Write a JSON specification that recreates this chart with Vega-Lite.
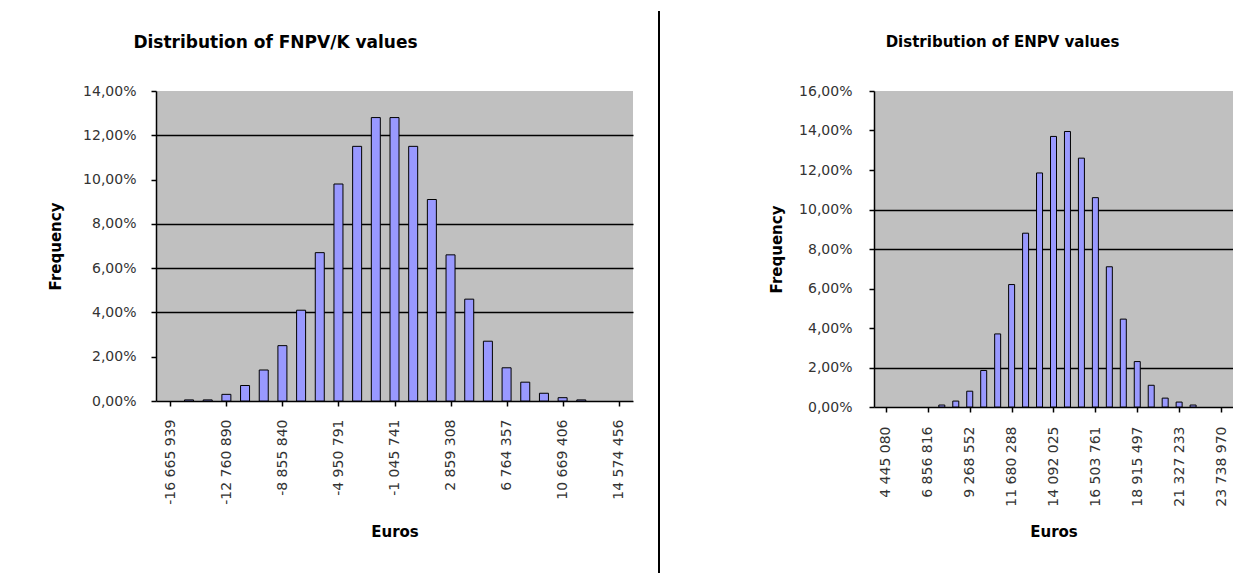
{
  "$schema": "https://vega.github.io/schema/vega-lite/v6.json",
  "padding": {"left": 48, "top": 10, "right": 0, "bottom": 0},
  "background": "white",
  "spacing": 25,
  "config": {
    "locale": {"number": {"decimal": ",", "thousands": " ", "grouping": [3], "currency": ["", " €"], "minus": "-"}},
    "font": "DejaVu Sans",
    "view": {"stroke": null},
    "axis": {
      "domainColor": "black",
      "domainWidth": 1.5,
      "tickColor": "black",
      "tickWidth": 1.5,
      "tickSize": 5,
      "labelFont": "DejaVu Sans",
      "labelFontSize": 14,
      "labelColor": "#333333",
      "titleFont": "DejaVu Sans",
      "titleFontSize": 15,
      "titleFontWeight": "bold",
      "titleColor": "black",
      "gridColor": "black",
      "gridWidth": 1.5
    }
  },
  "datasets": {
    "fnpvk": [
      {"euros": -15364256, "frequency": 0.0005},
      {"euros": -14062573, "frequency": 0.0005},
      {"euros": -12760890, "frequency": 0.003},
      {"euros": -11459207, "frequency": 0.007},
      {"euros": -10157523, "frequency": 0.014},
      {"euros": -8855840, "frequency": 0.025},
      {"euros": -7554157, "frequency": 0.041},
      {"euros": -6252474, "frequency": 0.067},
      {"euros": -4950791, "frequency": 0.098},
      {"euros": -3649108, "frequency": 0.115},
      {"euros": -2347424, "frequency": 0.128},
      {"euros": -1045741, "frequency": 0.128},
      {"euros": 255942, "frequency": 0.115},
      {"euros": 1557625, "frequency": 0.091},
      {"euros": 2859308, "frequency": 0.066},
      {"euros": 4160991, "frequency": 0.046},
      {"euros": 5462674, "frequency": 0.027},
      {"euros": 6764357, "frequency": 0.015},
      {"euros": 8066040, "frequency": 0.0085},
      {"euros": 9367724, "frequency": 0.0035},
      {"euros": 10669406, "frequency": 0.0015},
      {"euros": 11971089, "frequency": 0.0005}
    ],
    "enpv": [
      {"euros": 7660728, "frequency": 0.001},
      {"euros": 8464640, "frequency": 0.003},
      {"euros": 9268552, "frequency": 0.008},
      {"euros": 10072464, "frequency": 0.0185},
      {"euros": 10876376, "frequency": 0.037},
      {"euros": 11680288, "frequency": 0.062},
      {"euros": 12484200, "frequency": 0.088},
      {"euros": 13288113, "frequency": 0.1185},
      {"euros": 14092025, "frequency": 0.137},
      {"euros": 14895937, "frequency": 0.1395},
      {"euros": 15699849, "frequency": 0.126},
      {"euros": 16503761, "frequency": 0.106},
      {"euros": 17307673, "frequency": 0.071},
      {"euros": 18111585, "frequency": 0.0445},
      {"euros": 18915497, "frequency": 0.023},
      {"euros": 19719409, "frequency": 0.011},
      {"euros": 20523321, "frequency": 0.0045},
      {"euros": 21327233, "frequency": 0.0025},
      {"euros": 22131145, "frequency": 0.001}
    ],
    "separator": [{"line": 1}]
  },
  "hconcat": [
    {
      "width": 477,
      "height": 310,
      "title": {"text": "Distribution of FNPV/K values", "font": "DejaVu Sans", "fontSize": 17, "fontWeight": "bold", "color": "black", "anchor": "middle", "dx": -119, "offset": 32},
      "data": {"name": "fnpvk"},
      "view": {"fill": "#c0c0c0", "stroke": null},
      "mark": {"type": "bar", "size": 9, "fill": "#9999ff", "stroke": "black", "strokeWidth": 1},
      "encoding": {
        "x": {
          "field": "euros", "type": "quantitative",
          "scale": {"domain": [-17316781, 15225298], "nice": false, "zero": false},
          "axis": {
            "values": [-16665939, -12760890, -8855840, -4950791, -1045741, 2859308, 6764357, 10669406, 14574456],
            "format": ",d", "labelAngle": -90, "labelPadding": 13, "title": "Euros", "titlePadding": 20, "grid": false
          }
        },
        "y": {
          "field": "frequency", "type": "quantitative",
          "scale": {"domain": [0, 0.14], "nice": false},
          "axis": {
            "values": [0, 0.02, 0.04, 0.06, 0.08, 0.1, 0.12, 0.14],
            "format": ".2%", "title": "Frequency", "labelPadding": 15, "titlePadding": 19,
            "grid": true,
            "gridOpacity": {"condition": {"test": "indexof([4,6,8,12], round(datum.value*100)) >= 0", "value": 1}, "value": 0}
          }
        }
      }
    },
    {
      "width": 85,
      "height": 483,
      "data": {"name": "separator"},
      "mark": {"type": "rule", "stroke": "black", "strokeWidth": 2},
      "encoding": {
        "x": {"datum": 0, "type": "quantitative", "scale": {"domain": [0, 1]}, "axis": null},
        "y": {"datum": 0, "type": "quantitative", "scale": {"domain": [0, 0.858], "nice": false}, "axis": null},
        "y2": {"datum": 1}
      }
    },
    {
      "width": 359,
      "height": 316,
      "title": {"text": "Distribution of ENPV values", "font": "DejaVu Sans", "fontSize": 15, "fontWeight": "bold", "color": "black", "anchor": "middle", "dx": -51, "offset": 34},
      "data": {"name": "enpv"},
      "view": {"fill": "#c0c0c0", "stroke": null},
      "mark": {"type": "bar", "size": 6, "fill": "#9999ff", "stroke": "black", "strokeWidth": 1},
      "encoding": {
        "x": {
          "field": "euros", "type": "quantitative",
          "scale": {"domain": [4043124, 24140926], "nice": false, "zero": false},
          "axis": {
            "values": [4445080, 6856816, 9268552, 11680288, 14092025, 16503761, 18915497, 21327233, 23738970],
            "format": ",d", "labelAngle": -90, "labelPadding": 14, "title": "Euros", "titlePadding": 18, "grid": false
          }
        },
        "y": {
          "field": "frequency", "type": "quantitative",
          "scale": {"domain": [0, 0.16], "nice": false},
          "axis": {
            "values": [0, 0.02, 0.04, 0.06, 0.08, 0.1, 0.12, 0.14, 0.16],
            "format": ".2%", "title": "Frequency", "labelPadding": 17, "titlePadding": 14,
            "grid": true,
            "gridOpacity": {"condition": {"test": "indexof([2,8,10], round(datum.value*100)) >= 0", "value": 1}, "value": 0}
          }
        }
      }
    }
  ]
}
